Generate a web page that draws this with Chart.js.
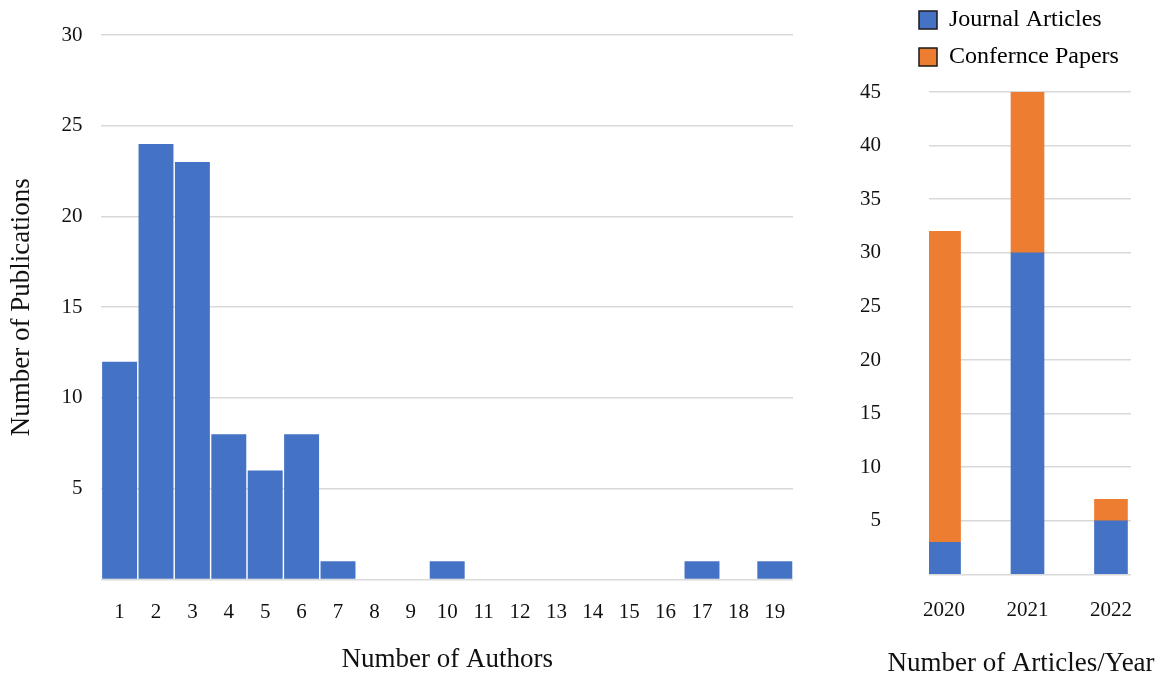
<!DOCTYPE html>
<html>
<head>
<meta charset="utf-8">
<script src="https://cdn.jsdelivr.net/npm/chart.js@4"></script>
<style>
  body { margin: 0; background: #fff; }
  #left { position: absolute; left: 0; top: 0; width: 830px; height: 680px; }
  #right { position: absolute; left: 812px; top: 0; width: 352px; height: 680px; }
</style>
</head>
<body>
<div id="left"><canvas id="authorsChart"></canvas></div>
<div id="right"><canvas id="yearChart"></canvas></div>
<script>
// number of authors histogram
const authorCounts = ['1','2','3','4','5','6','7','8','9','10','11','12','13','14','15','16','17','18','19'];
const publications = [12, 24, 23, 8, 6, 8, 1, 0, 0, 1, 0, 0, 0, 0, 0, 0, 1, 0, 1];

// articles per year
const years = [2020, 2021, 2022];
const journalArticles = [3, 30, 5];
const conferencePapers = [29, 15, 2];

const blue = '#4472C4'
const orange = '#ED7D31'
const gridColor = '#d9d9d9'

Chart.defaults.font.family = '"Liberation Serif", "Times New Roman", serif'
Chart.defaults.color = '#111'

function hideZero(v){
    return v === 0 ? '' : v
}

// legend + bottom title of the small chart sit a bit outside the plot width
const nudgeBoxes = {
    id: 'nudgeBoxes',
    beforeInit(chart){
        const fit = chart.legend.fit
        chart.legend.fit = function(){
            fit.bind(chart.legend)()
            this.height += 8
        }
    },
    afterLayout(chart){
        let lg = chart.legend
        lg.left = chart.chartArea.left - 23
        lg.right = chart.width
        lg.width = lg.right - lg.left
        lg.top -= 5
        lg.bottom -= 5
        let t = chart.titleBlock
        t.left = 66
        t.right = chart.width
        t.width = t.right - t.left
    }
}

function authorsChart(id){
    let ctx = document.getElementById(id).getContext("2d")
    new Chart(ctx, {
        type: 'bar',
        data: {
            labels: authorCounts,
            datasets: [{
                label: 'Publications',
                data: publications,
                backgroundColor: blue,
                barPercentage: 0.96,
                categoryPercentage: 1
            }]
        },
        options: {
            responsive: true,
            maintainAspectRatio: false,
            animation: false,
            layout: { padding: { top: 35, right: 37, bottom: 0, left: 0 } },
            plugins: { legend: { display: false }, tooltip: { enabled: false } },
            scales: {
                x: {
                    grid: { display: false },
                    border: { display: false },
                    ticks: { font: { size: 21 }, padding: 12, maxRotation: 0, autoSkip: false },
                    title: { display: true, text: 'Number of Authors', font: { size: 27 }, padding: { top: 7, bottom: 4 } }
                },
                y: {
                    min: 0,
                    max: 30,
                    border: { display: false },
                    grid: { color: gridColor, lineWidth: 1.5, drawTicks: false },
                    ticks: { stepSize: 5, font: { size: 21 }, padding: 19, callback: hideZero },
                    title: { display: true, text: 'Number of Publications', font: { size: 27 }, padding: { top: 6, bottom: 4 } }
                }
            }
        }
    })
}

function yearChart(id){
    let ctx = document.getElementById(id).getContext("2d")
    new Chart(ctx, {
        type: 'bar',
        data: {
            labels: years,
            datasets: [{
                label: 'Journal Articles',
                data: journalArticles,
                backgroundColor: blue,
                barThickness: 33
            }, {
                label: 'Confernce Papers',
                data: conferencePapers,
                backgroundColor: orange,
                barThickness: 33
            }]
        },
        plugins: [nudgeBoxes],
        options: {
            responsive: true,
            maintainAspectRatio: false,
            animation: false,
            layout: { padding: { top: 0, right: 33, bottom: 0, left: 0 } },
            plugins: {
                tooltip: { enabled: false },
                title: {
                    display: true,
                    position: 'bottom',
                    text: 'Number of Articles/Year',
                    color: '#111',
                    font: { size: 27, weight: 'normal' },
                    padding: { top: 10, bottom: 0 }
                },
                legend: {
                    position: 'top',
                    align: 'start',
                    fullSize: false,
                    labels: {
                        font: { size: 24 },
                        color: '#111',
                        boxWidth: 18,
                        boxHeight: 18,
                        padding: 13,
                        generateLabels: function(chart){
                            return chart.data.datasets.map((ds, i) => ({
                                text: ds.label,
                                fillStyle: ds.backgroundColor,
                                strokeStyle: '#1a1a1a',
                                lineWidth: 1.5,
                                datasetIndex: i
                            }))
                        }
                    }
                }
            },
            scales: {
                x: {
                    type: 'linear',
                    stacked: true,
                    bounds: 'data',
                    offset: false,
                    min: 2019.82,
                    max: 2022.24,
                    grid: { display: false },
                    border: { display: false },
                    afterBuildTicks: axis => { axis.ticks = years.map(v => ({ value: v })) },
                    ticks: {
                        font: { size: 21 },
                        padding: 15,
                        maxRotation: 0,
                        autoSkip: false,
                        callback: v => String(v)
                    }
                },
                y: {
                    stacked: true,
                    min: 0,
                    max: 45,
                    border: { display: false },
                    grid: { color: gridColor, lineWidth: 1.5, drawTicks: false },
                    ticks: { stepSize: 5, font: { size: 21 }, padding: 48, callback: hideZero }
                }
            }
        }
    })
}

authorsChart('authorsChart')
yearChart('yearChart')
</script>
</body>
</html>
